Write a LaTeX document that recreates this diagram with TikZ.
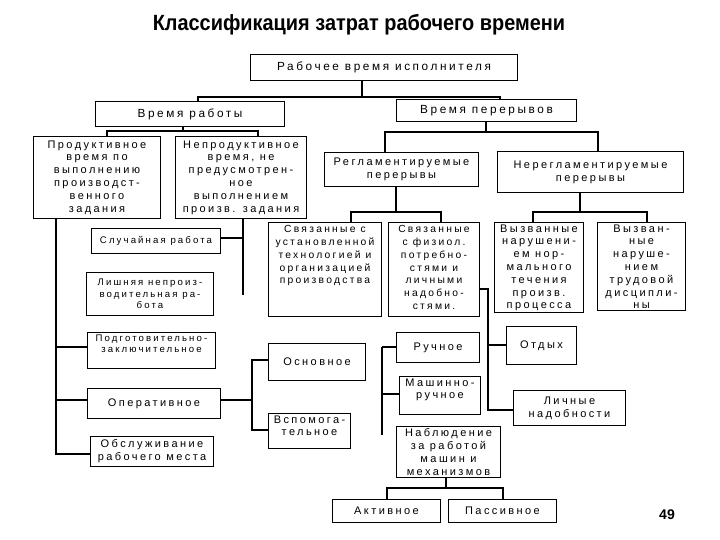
\documentclass[tikz,border=0pt]{standalone}
\usepackage{fontspec}
\usepackage{graphicx}
\setmainfont{Liberation Sans}
\newfontfamily\bxf[LetterSpace=22]{Liberation Sans}
\newcommand{\bxat}[7]{\node[box, anchor=north west] (#1) at (#2,#3) {\parbox[t][#5pt][#6]{#4pt}{\centering #7\par}};}
\newcommand{\smf}{\fontsize{9.6}{11.5}\selectfont}
\newcommand{\mdf}{\fontsize{10.3}{12.8}\selectfont}
\newcommand{\bgf}{\fontsize{11.8}{13}\selectfont}
\tikzset{
  box/.style={draw, line width=1pt, inner sep=0pt, font=\bxf\fontsize{11}{12.8}\selectfont},
  conn/.style={line width=1.1pt},
  thickc/.style={line width=2pt}
}
\begin{document}
\begin{tikzpicture}[x=1pt,y=-1pt]
\fill[white] (0,0) rectangle (720,540);
\useasboundingbox (0,0) rectangle (720,540);
\node (title) at (359,25) {\scalebox{0.905}[1]{\fontsize{22}{25}\selectfont\bfseries Классификация затрат рабочего времени}};
\node (pg) at (667,515) {\fontsize{14}{16}\selectfont\bfseries 49};

\bxat{A}{250}{54}{267}{26}{c}{\bgf Рабочее время исполнителя}
\bxat{B}{95}{101}{189}{25}{c}{\bgf Время работы}
\bxat{C}{396}{99}{180}{22}{c}{\bgf Время перерывов}
\bxat{D}{33}{136}{127}{82}{c}{Продуктивное\\время по\\выполнению\\производст-\\венного\\задания}
\bxat{E}{175}{136}{131}{82}{c}{Непродуктивное\\время, не\\предусмотрен-\\ное\\выполнением\\произв. задания}
\bxat{F}{324}{152}{154}{34}{c}{Регламентируемые\\перерывы}
\bxat{G}{497}{151}{186}{41}{c}{Нерегламентируемые\\перерывы}
\bxat{H}{268}{222}{113}{94}{t}{\vspace*{3pt}\mdf Связанные с\\установленной\\технологией и\\организацией\\производства}
\bxat{I}{388}{222}{91}{94}{t}{\vspace*{3pt}\mdf Связанные\\с физиол.\\потребно-\\стями и\\личными\\надобно-\\стями.}
\bxat{J}{494}{222}{89}{90}{t}{\vspace*{2pt}Вызванные\\нарушени-\\ем нор-\\мального\\течения\\произв.\\процесса}
\bxat{K}{597}{222}{88}{88}{t}{\vspace*{2pt}Вызван-\\ные\\наруше-\\нием\\трудовой\\дисципли-\\ны}
\bxat{L1}{91}{228}{129}{25}{c}{\smf Случайная работа}
\bxat{L2}{86}{272}{127}{43}{c}{\smf Лишняя непроиз-\\водительная ра-\\бота}
\bxat{L3}{87}{332}{128}{36}{t}{\vspace*{2pt}\smf Подготовительно-\\заключительное}
\bxat{L4}{87}{388}{133}{30}{c}{Оперативное}
\bxat{L5}{90}{436}{123}{30}{c}{Обслуживание\\рабочего места}
\bxat{M1}{268}{343}{97}{37}{c}{Основное}
\bxat{M2}{268}{413}{82}{35}{t}{\vspace*{2pt}Вспомога-\\тельное}
\bxat{N1}{396}{332}{83}{30}{c}{Ручное}
\bxat{N2}{399}{376}{81}{38}{t}{\vspace*{2pt}Машинно-\\ручное}
\bxat{N3}{396}{426}{104}{51}{c}{Наблюдение\\за работой\\машин и\\механизмов}
\bxat{O1}{506}{326}{70}{38}{c}{Отдых}
\bxat{O2}{513}{390}{112}{35}{c}{Личные\\надобности}
\bxat{P1}{332}{499}{108}{23}{c}{Активное}
\bxat{P2}{448}{499}{108}{23}{c}{Пассивное}

\draw[conn] (A.south -| 362,0) -- (362,97);
\draw[conn] (B.north -| 198,0) -- (198,97) -- (500,97) -- (C.north -| 500,0);
\draw[conn] (B.south -| 183,0) -- (183,131);
\draw[conn] (D.north -| 107,0) -- (107,131) -- (258,131) -- (E.north -| 258,0);
\draw[conn] (C.south -| 486,0) -- (486,132);
\draw[conn] (F.north -| 385,0) -- (385,132) -- (598,132) -- (G.north -| 598,0);
\draw[conn] (F.south -| 396,0) -- (396,212);
\draw[conn] (H.north -| 351,0) -- (351,212) -- (441,212) -- (I.north -| 441,0);
\draw[conn] (G.south -| 580,0) -- (580,212);
\draw[conn] (J.north -| 533,0) -- (533,212) -- (647,212) -- (K.north -| 647,0);
\draw[conn] (D.south -| 56,0) -- (56,454) -- (L5.west |- 0,454);
\draw[conn] (56,347) -- (L3.west |- 0,347);
\draw[conn] (56,400) -- (L4.west |- 0,400);
\draw[thickc] (E.south -| 243,0) -- (243,295);
\draw[conn] (L1.east |- 0,238) -- (243,238);
\draw[conn] (L4.east |- 0,400) -- (252,400);
\draw[conn] (M1.west |- 0,360) -- (252,360) -- (252,430) -- (M2.west |- 0,430);
\draw[thickc] (382,347) -- (382,435);
\draw[conn] (382,347) -- (N1.west |- 0,347);
\draw[conn] (382,394) -- (N2.west |- 0,394);
\draw[conn] (I.east |- 0,289) -- (488,289) -- (488,410) -- (O2.west |- 0,410);
\draw[conn] (488,345) -- (O1.west |- 0,345);
\draw[conn] (N3.south -| 446,0) -- (446,488);
\draw[conn] (P1.north -| 387,0) -- (387,488) -- (503,488) -- (P2.north -| 503,0);
\end{tikzpicture}
\end{document}
